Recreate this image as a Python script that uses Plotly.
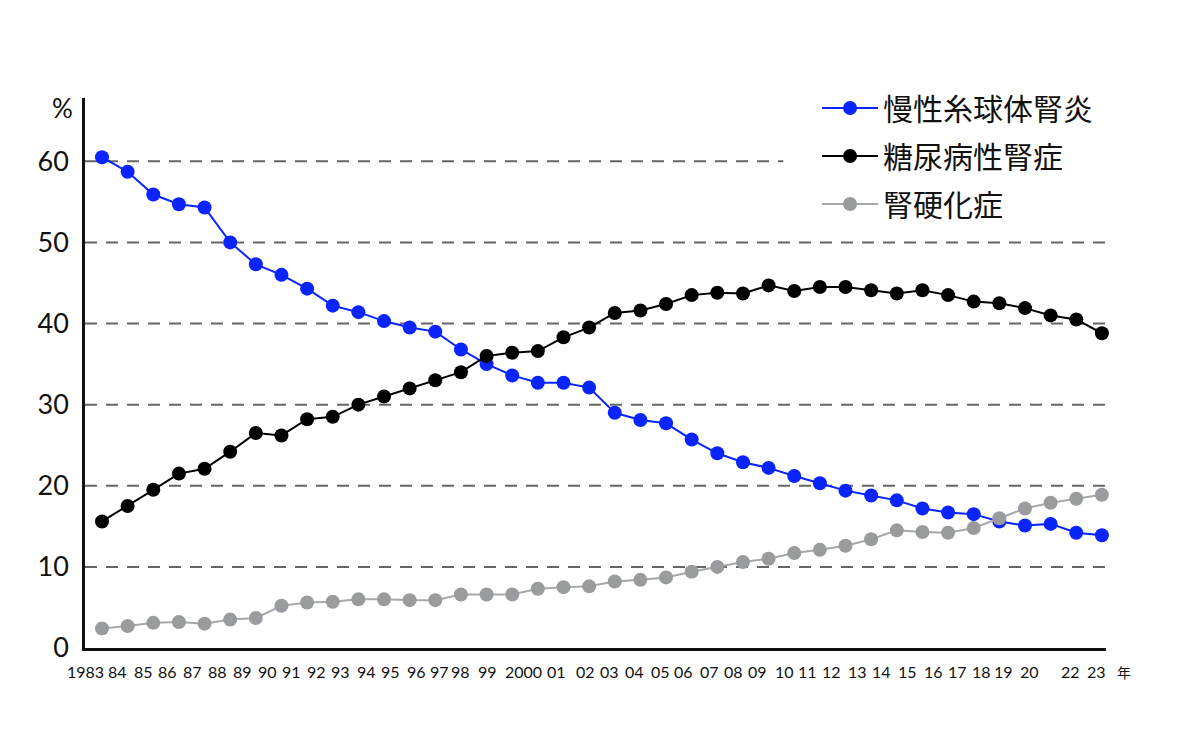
import plotly.graph_objects as go

years = ["1983", "84", "85", "86", "87", "88", "89", "90", "91", "92", "93", "94", "95", "96",
         "97", "98", "99", "2000", "01", "02", "03", "04", "05", "06", "07", "08", "09", "10",
         "11", "12", "13", "14", "15", "16", "17", "18", "19", "20", "22", "23"]

glomerulonephritis = [60.5, 58.7, 55.9, 54.7, 54.3, 50.0, 47.3, 46.0, 44.3, 42.2, 41.4, 40.3,
                      39.5, 39.0, 36.8, 35.0, 33.6, 32.7, 32.7, 32.1, 29.0, 28.1, 27.7, 25.7,
                      24.0, 22.9, 22.2, 21.2, 20.3, 19.4, 18.8, 18.2, 17.2, 16.7, 16.5, 15.6,
                      15.1, 15.3, 14.2, 13.9]

diabetic = [15.6, 17.5, 19.5, 21.5, 22.1, 24.2, 26.5, 26.2, 28.2, 28.5, 30.0, 31.0, 32.0, 33.0,
            34.0, 36.0, 36.4, 36.6, 38.3, 39.5, 41.3, 41.6, 42.4, 43.5, 43.8, 43.7, 44.7, 44.0,
            44.5, 44.5, 44.1, 43.7, 44.1, 43.5, 42.7, 42.5, 41.9, 41.0, 40.5, 38.8]

nephrosclerosis = [2.4, 2.7, 3.1, 3.2, 3.0, 3.5, 3.7, 5.2, 5.6, 5.7, 6.0, 6.0, 5.9, 5.9, 6.6,
                   6.6, 6.6, 7.3, 7.5, 7.6, 8.2, 8.4, 8.7, 9.4, 10.0, 10.6, 11.0, 11.7, 12.1,
                   12.6, 13.4, 14.5, 14.3, 14.2, 14.8, 16.0, 17.2, 17.9, 18.4, 18.9]

series_names = ["慢性糸球体腎炎", "糖尿病性腎症", "腎硬化症"]
y_ticks = [0, 10, 20, 30, 40, 50, 60]

# the original year labels are typeset as one loose line, drifting from the points
label_nudge_px = [-17, -10, -10, -11, -12, -13, -13, -14, -16, -16, -18, -18, -19, -19,
                  -21, -26, -25, -14, -7, -4, -5, -6, -6, -8, -8, -9, -11, -10,
                  -12, -14, -14, -15, -15, -15, -16, -18, -21, -21, -6, -5]

NUM_FONT = "Lato"
JP_FONT = "Noto Sans CJK JP"
INK = "#111111"

fig = go.Figure()

styles = [
    dict(line=dict(color="#0a24ff", width=2), marker=dict(color="#0a24ff", size=14)),
    dict(line=dict(color="#000000", width=2), marker=dict(color="#000000", size=14)),
    dict(line=dict(color="#a7a8ac", width=2), marker=dict(color="#9a9b9f", size=14)),
]

for i, (name, vals) in enumerate(zip(series_names, [glomerulonephritis, diabetic, nephrosclerosis])):
    fig.add_trace(go.Scatter(
        x=years, y=vals, name=name, mode="lines+markers",
        line=styles[i]["line"], marker=styles[i]["marker"],
        legendgroup=str(i), cliponaxis=False,
    ))

# dashed horizontal guide lines (the top one stops short of the legend)
for v in y_ticks[1:]:
    x_end = 0.684 if v == 60 else 1.0
    fig.add_shape(type="line", xref="paper", yref="y", x0=0, x1=x_end, y0=v, y1=v,
                  line=dict(color="#666666", width=2, dash="12px,9px"), layer="below")

# year labels under the axis (positioned by category index on the x axis)
for idx, (yr, nudge) in enumerate(zip(years, label_nudge_px)):
    fig.add_annotation(text=yr, xref="x", yref="paper", x=idx, y=-0.042, xshift=nudge,
                       xanchor="center", yanchor="middle", showarrow=False,
                       font=dict(family=NUM_FONT, size=16, color=INK))

fig.add_annotation(text="%", xref="paper", yref="paper", x=-0.0225, y=0.982,
                   xanchor="center", yanchor="middle", showarrow=False,
                   font=dict(family=NUM_FONT, size=26, color=INK))
fig.add_annotation(text="年", xref="paper", yref="paper", x=1.0176, y=-0.044,
                   xanchor="center", yanchor="middle", showarrow=False,
                   font=dict(family=JP_FONT, size=14, color=INK))

fig.update_layout(
    width=1200, height=734,
    margin=dict(l=77, r=102, t=90, b=94),
    paper_bgcolor="white", plot_bgcolor="white",
    showlegend=True,
    legend=dict(x=0.717, y=1.029, xanchor="left", yanchor="top",
                font=dict(family=JP_FONT, size=30, color=INK),
                itemwidth=56, tracegroupgap=6, bgcolor="rgba(0,0,0,0)"),
    xaxis=dict(type="category", range=[-0.663, 39.16], showgrid=False, zeroline=False,
               showline=True, linecolor=INK, linewidth=2.5, ticks="",
               showticklabels=False),
    yaxis=dict(range=[0, 67.8], showgrid=False, zeroline=False, showline=True,
               linecolor=INK, linewidth=2.5, ticks="", tickvals=y_ticks,
               tickfont=dict(family=NUM_FONT, size=27, color=INK),
               ticklabelstandoff=8),
)

fig.write_html("out.html")
